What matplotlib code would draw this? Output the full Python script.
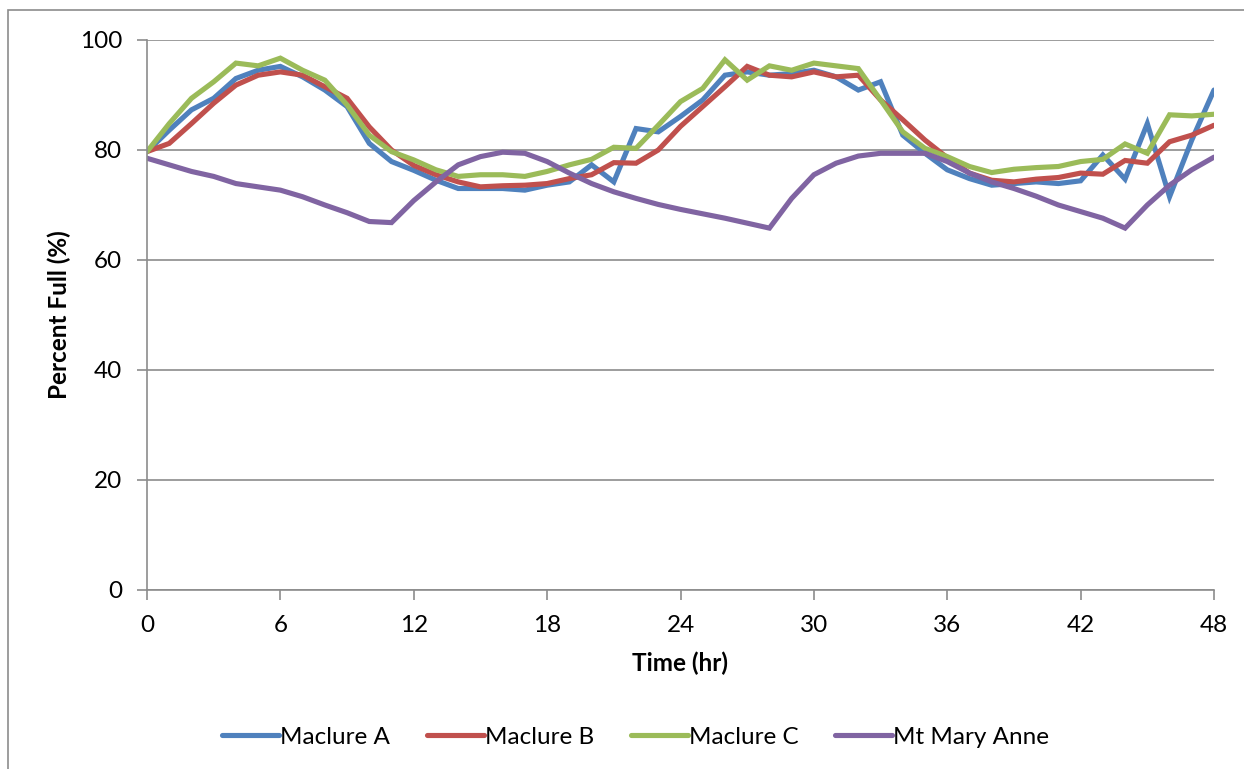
import matplotlib
matplotlib.use("Agg")
import matplotlib.pyplot as plt
from matplotlib.patches import Rectangle

plt.rcParams['font.family'] = ['Lato', 'DejaVu Sans']

hours = list(range(49))

maclure_a = [79.7, 83.6, 87.3, 89.4, 93.0, 94.5, 95.2, 93.3, 90.9, 87.9,
             81.2, 77.9, 76.3, 74.5, 73.0, 73.0, 73.0, 72.7, 73.6, 74.2,
             77.3, 74.2, 83.9, 83.3, 86.1, 89.1, 93.6, 94.2, 93.6, 93.9,
             94.5, 93.3, 90.9, 92.4, 82.7, 79.4, 76.4, 74.8, 73.6, 73.9,
             74.2, 73.9, 74.4, 79.1, 74.7, 84.8, 71.5, 81.8, 90.9]

maclure_b = [79.7, 81.2, 84.8, 88.5, 91.8, 93.6, 94.2, 93.6, 91.5, 89.4,
             84.2, 80.0, 77.2, 75.5, 74.2, 73.3, 73.5, 73.6, 73.9, 74.8,
             75.5, 77.7, 77.6, 80.0, 84.3, 87.9, 91.5, 95.2, 93.6, 93.3,
             94.2, 93.3, 93.6, 89.1, 85.5, 81.8, 78.6, 75.8, 74.5, 74.2,
             74.7, 75.0, 75.8, 75.6, 78.1, 77.6, 81.5, 82.7, 84.5]

maclure_c = [79.7, 84.8, 89.4, 92.4, 95.8, 95.3, 96.7, 94.5, 92.7, 88.2,
             82.7, 79.7, 78.2, 76.4, 75.2, 75.5, 75.5, 75.2, 76.1, 77.3,
             78.3, 80.5, 80.3, 84.5, 88.8, 91.2, 96.4, 92.7, 95.3, 94.5,
             95.8, 95.3, 94.8, 89.1, 83.3, 80.3, 78.8, 77.0, 75.9, 76.5,
             76.8, 77.0, 77.9, 78.3, 81.1, 79.4, 86.4, 86.2, 86.5]

mt_mary_anne = [78.5, 77.3, 76.1, 75.2, 73.9, 73.3, 72.7, 71.5, 70.0, 68.6,
                67.0, 66.8, 70.8, 74.2, 77.3, 78.8, 79.6, 79.4, 77.9, 75.8,
                73.9, 72.4, 71.2, 70.1, 69.2, 68.4, 67.6, 66.7, 65.8, 71.2,
                75.5, 77.6, 78.9, 79.4, 79.4, 79.4, 77.9, 75.8, 74.2, 73.0,
                71.6, 70.0, 68.8, 67.6, 65.8, 70.0, 73.6, 76.4, 78.7]

series = [("Maclure A", maclure_a, "#4F81BD"),
          ("Maclure B", maclure_b, "#C0504D"),
          ("Maclure C", maclure_c, "#9BBB59"),
          ("Mt Mary Anne", mt_mary_anne, "#8064A2")]

fs = 17.5

fig = plt.figure(figsize=(12.44, 7.69), dpi=100)
# outer chart frame
fig.patches.append(Rectangle((8 / 1244, -0.05), 1.2, 1 - 10 / 769 + 0.05,
                             transform=fig.transFigure, fill=False,
                             edgecolor="#8c8c8c", linewidth=1.2))

ax = fig.add_axes([147 / 1244, 1 - 590 / 769, (1214 - 147) / 1244, 550 / 769])

for name, vals, col in series:
    ax.plot(hours, vals, color=col, linewidth=3.7, label=name,
            solid_capstyle="round", solid_joinstyle="miter")

ax.set_xlim(0, 48)
ax.set_ylim(0, 100)
ax.set_xticks(range(0, 49, 6))
ax.set_yticks(range(0, 101, 20))
ax.yaxis.grid(True, color="#8c8c8c", linewidth=1.2)
ax.set_axisbelow(True)
for s in ["top", "right"]:
    ax.spines[s].set_visible(False)
for s in ["left", "bottom"]:
    ax.spines[s].set_color("#8c8c8c")
    ax.spines[s].set_linewidth(1.2)
ax.tick_params(axis="both", colors="#8c8c8c", length=7, width=1.2,
               labelsize=fs, labelcolor="black")
ax.tick_params(axis="x", pad=11)
ax.tick_params(axis="y", pad=11)

ax.set_xlabel("Time (hr)", fontsize=fs, fontweight="bold", labelpad=11)
ax.set_ylabel("Percent Full (%)", fontsize=fs, fontweight="bold", labelpad=6)

ax.legend(loc="center", bbox_to_anchor=(0.458, -(737 - 590) / 550), ncol=4,
          frameon=False, fontsize=fs, handlelength=2.35, handletextpad=0.05,
          columnspacing=1.5)

fig.savefig("out.png", dpi=100)
